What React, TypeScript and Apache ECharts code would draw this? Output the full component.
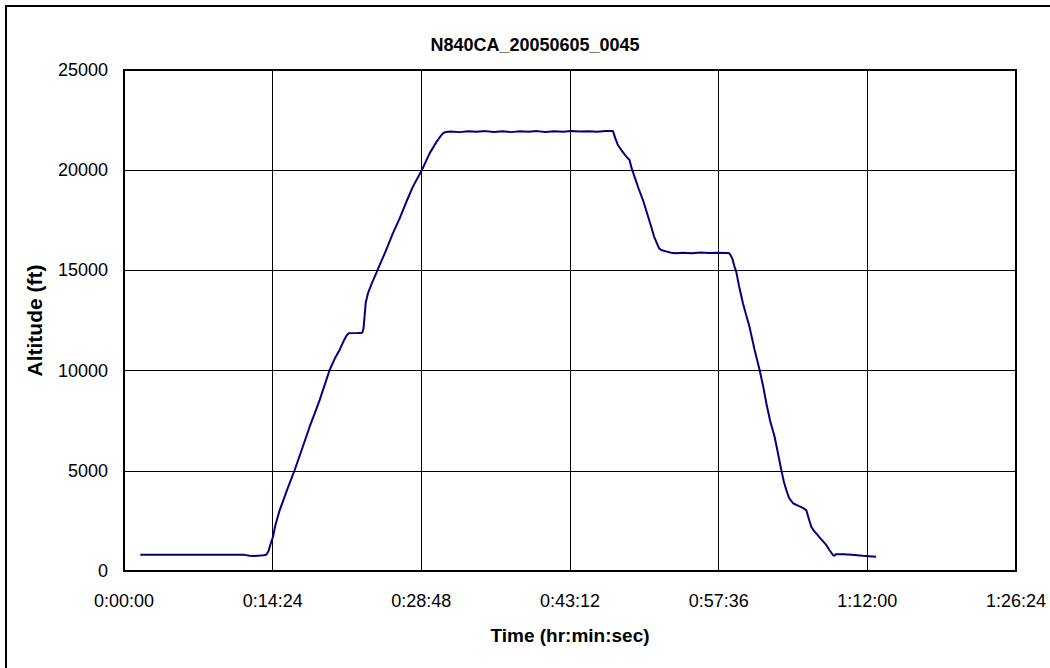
import React, { useEffect, useRef } from "react";
import * as echarts from "echarts";

// Flight track: elapsed time in seconds and pressure altitude in feet
const timeSec = [
  95, 200, 300, 400, 500, 600, 700, 730, 760, 790, 810, 827, 840, 850, 866, 880, 905, 950, 992, 1035,
  1079, 1110, 1137, 1165, 1195, 1225, 1253, 1275, 1292, 1305, 1330, 1360, 1385, 1392, 1398, 1405, 1418,
  1440, 1466, 1495, 1524, 1560, 1602, 1640, 1679, 1734, 1776, 1815, 1840, 1853, 1870, 1900, 1950, 2000,
  2050, 2100, 2150, 2200, 2250, 2300, 2350, 2400, 2450, 2500, 2550, 2600, 2650, 2700, 2750, 2800, 2842,
  2855, 2870, 2895, 2919, 2938, 2950, 2967, 2990, 3016, 3040, 3064, 3080, 3093, 3110, 3122, 3150, 3180,
  3209, 3250, 3300, 3350, 3400, 3450, 3500, 3519, 3535, 3548, 3558, 3575, 3597, 3615, 3635, 3665, 3694,
  3715, 3733, 3755, 3781, 3800, 3820, 3835, 3849, 3865, 3888, 3920, 3945, 3965, 3980, 3994, 4010, 4023,
  4050, 4081, 4100, 4120, 4129, 4135, 4180, 4230, 4260, 4294, 4330, 4371,
];
const altitudeFt = [
  810, 810, 810, 810, 810, 810, 805, 760, 750, 770, 790, 810, 1000, 1300, 1710, 2300, 3040, 4100, 5040, 6100,
  7200, 7900, 8530, 9250, 10030, 10600, 11030, 11450, 11730, 11860, 11870, 11880, 11890, 12100, 12690, 13400, 13860,
  14350, 14860, 15450, 16020, 16800, 17600, 18400, 19180, 20050, 20840, 21400, 21700, 21840, 21910, 21930, 21900, 21940,
  21920, 21950, 21910, 21940, 21900, 21940, 21920, 21950, 21910, 21940, 21920, 21950, 21930, 21940, 21920, 21950, 21950,
  21600, 21260, 20950, 20680, 20510, 20100, 19680, 19100, 18510, 17850, 17180, 16700, 16430, 16100, 16020, 15950, 15880,
  15850, 15880, 15860, 15890, 15870, 15880, 15870, 15850, 15600, 15190, 14940, 14200, 13360, 12800, 12190, 11030, 10030,
  9200, 8370, 7500, 6700, 5900, 5040, 4450, 4040, 3650, 3380, 3250, 3150, 3040, 2600, 2210, 2000, 1880,
  1600, 1300, 1050, 800, 750, 830, 830, 810, 790, 760, 740, 715,
];

const chartTitle = "N840CA_20050605_0045";
const xTitle = "Time (hr:min:sec)";
const yTitle = "Altitude (ft)";

function fmtClock(sec: number): string {
  const h = Math.floor(sec / 3600);
  const m = Math.floor((sec % 3600) / 60);
  const s = Math.round(sec % 60);
  return `${h}:${String(m).padStart(2, "0")}:${String(s).padStart(2, "0")}`;
}

const FONT = "'Liberation Sans', Arial, sans-serif";

export default function App() {
  const ref = useRef<HTMLDivElement>(null);

  useEffect(() => {
    document.body.style.margin = "0";
    if (!ref.current) return;
    const chart = echarts.init(ref.current, null, { renderer: "svg" });
    const points = timeSec.map((t, i) => [t, altitudeFt[i]]);

    chart.setOption({
      animation: false,
      backgroundColor: "#ffffff",
      title: {
        text: chartTitle,
        left: 530,
        top: 31,
        textAlign: "center",
        textStyle: { fontFamily: FONT, fontSize: 18, fontWeight: "bold", color: "#000" },
      },
      graphic: [
        {
          type: "rect",
          shape: { x: 6, y: 6, width: 1100, height: 700 },
          style: { fill: "none", stroke: "#000", lineWidth: 2 },
          silent: true,
        },
      ],
      grid: {
        left: 124,
        right: 34,
        top: 70,
        bottom: 97,
        show: true,
        borderColor: "#000",
        borderWidth: 2,
        backgroundColor: "transparent",
      },
      xAxis: {
        type: "value",
        min: 0,
        max: 5184,
        interval: 864,
        name: xTitle,
        nameLocation: "middle",
        nameGap: 55,
        nameTextStyle: { fontFamily: FONT, fontSize: 19, fontWeight: "bold", color: "#000" },
        axisLine: { show: false },
        axisTick: { show: false },
        axisLabel: {
          formatter: (v: number) => fmtClock(v),
          fontFamily: FONT,
          fontSize: 18,
          color: "#000",
          margin: 21,
        },
        splitLine: { show: true, lineStyle: { color: "#000", width: 1 } },
      },
      yAxis: {
        type: "value",
        min: 0,
        max: 25000,
        interval: 5000,
        name: yTitle,
        nameLocation: "middle",
        nameRotate: 90,
        nameGap: 79,
        nameTextStyle: { fontFamily: FONT, fontSize: 21, fontWeight: "bold", color: "#000" },
        axisLine: { show: false },
        axisTick: { show: false },
        axisLabel: {
          formatter: (v: number) => String(v),
          fontFamily: FONT,
          fontSize: 18,
          color: "#000",
          margin: 16,
        },
        splitLine: { show: true, lineStyle: { color: "#000", width: 1 } },
      },
      series: [
        {
          type: "line",
          data: points,
          showSymbol: false,
          lineStyle: { color: "#000080", width: 2 },
          itemStyle: { color: "#000080" },
        },
      ],
    });

    return () => chart.dispose();
  }, []);

  return <div ref={ref} style={{ width: 1050, height: 668 }} />;
}
